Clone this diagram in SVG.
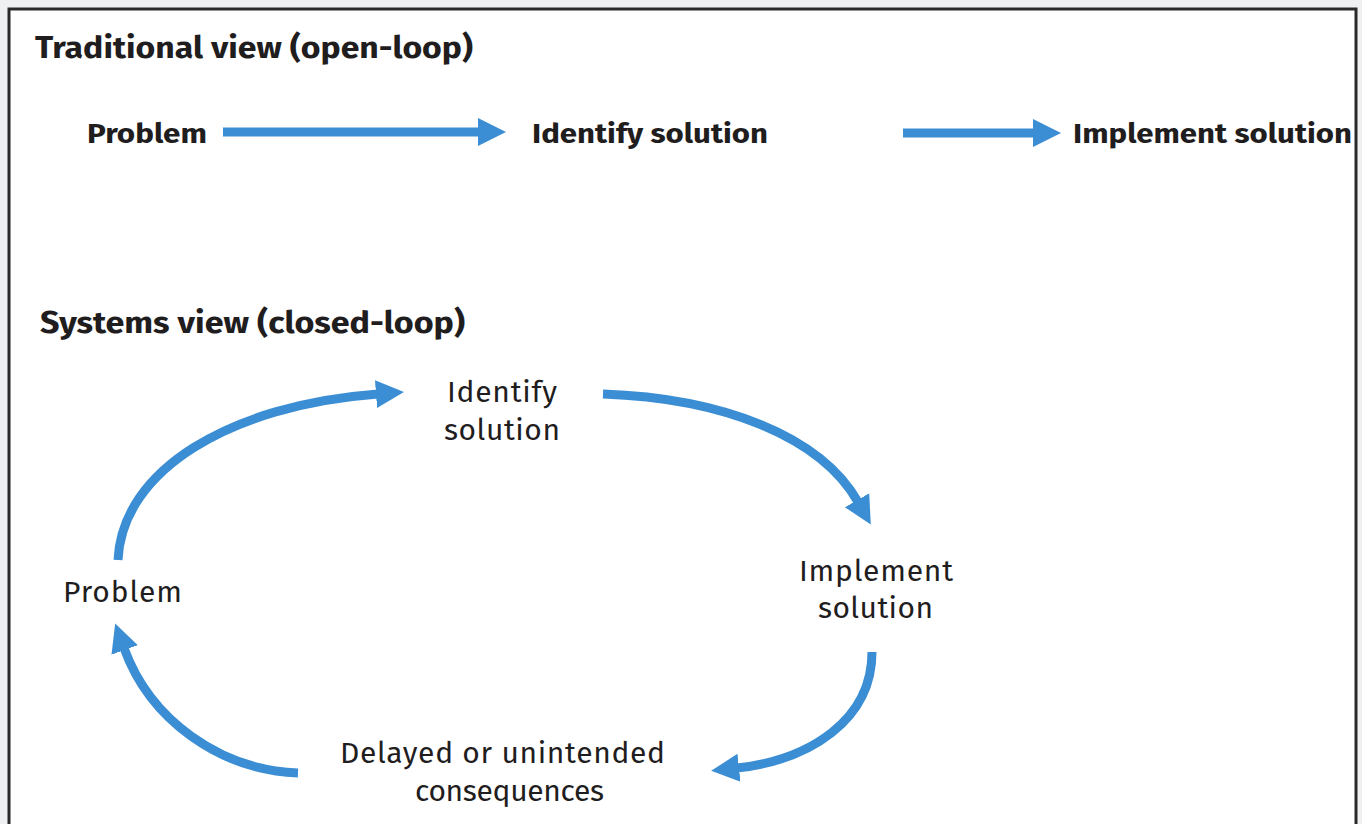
<svg xmlns="http://www.w3.org/2000/svg" width="1362" height="824" viewBox="0 0 1362 824">
<style>
.bold{font-family:"Fira Sans","Noto Sans","Open Sans",sans-serif;font-weight:700;fill:#1f1d1e}
.reg{font-family:"Fira Sans","Noto Sans","Open Sans",sans-serif;font-weight:400;fill:#1f1d1e;font-size:30px}
.arr{fill:none;stroke:#3b8ed3;stroke-width:9;stroke-linecap:butt}
</style>
<defs>
<marker id="head" markerUnits="userSpaceOnUse" markerWidth="40" markerHeight="40" refX="2" refY="15" orient="auto" viewBox="0 0 40 30">
<path d="M0,1 L28,15 L0,29 Z" fill="#3b8ed3"/>
</marker>
</defs>
<rect x="0" y="0" width="1362" height="824" fill="#eff0f2"/>
<rect x="9" y="9" width="1347" height="830" fill="#ffffff" stroke="#2a2a2a" stroke-width="3"/>
<g id="title-traditional"><text class="bold" x="35" y="58" font-size="30" textLength="438" lengthAdjust="spacingAndGlyphs">Traditional view (open-loop)</text></g>
<g id="t-problem"><text class="bold" x="87" y="143" font-size="28" textLength="120" lengthAdjust="spacingAndGlyphs">Problem</text></g>
<g id="t-identify"><text class="bold" x="532" y="143" font-size="28" textLength="236" lengthAdjust="spacingAndGlyphs">Identify solution</text></g>
<g id="t-implement"><text class="bold" x="1073" y="143" font-size="28" textLength="279" lengthAdjust="spacingAndGlyphs">Implement solution</text></g>
<g id="title-systems"><text class="bold" x="40" y="333" font-size="30" textLength="425" lengthAdjust="spacingAndGlyphs">Systems view (closed-loop)</text></g>
<g id="c-identify"><text class="reg" x="447" y="402" textLength="110">Identify</text><text class="reg" x="444" y="440" textLength="116">solution</text></g>
<g id="c-implement"><text class="reg" x="799" y="581" textLength="154">Implement</text><text class="reg" x="818" y="618" textLength="115">solution</text></g>
<g id="c-problem"><text class="reg" x="63" y="602" textLength="119">Problem</text></g>
<g id="c-delayed"><text class="reg" x="340" y="763" textLength="325">Delayed or unintended</text><text class="reg" x="415" y="801" textLength="189">consequences</text></g>
<g id="connectors">
<path class="arr" d="M223,132 L480,132" marker-end="url(#head)"/>
<path class="arr" d="M903,133 L1035,133" marker-end="url(#head)"/>
<path class="arr" d="M118,560 C122,470 230,405 378,394" marker-end="url(#head)"/>
<path class="arr" d="M603,394 C720,398 820,435 858,502" marker-end="url(#head)"/>
<path class="arr" d="M872,652 C872,720 810,760 737,768" marker-end="url(#head)"/>
<path class="arr" d="M298,773 C220,770 150,720 124,648" marker-end="url(#head)"/>
</g>
</svg>
